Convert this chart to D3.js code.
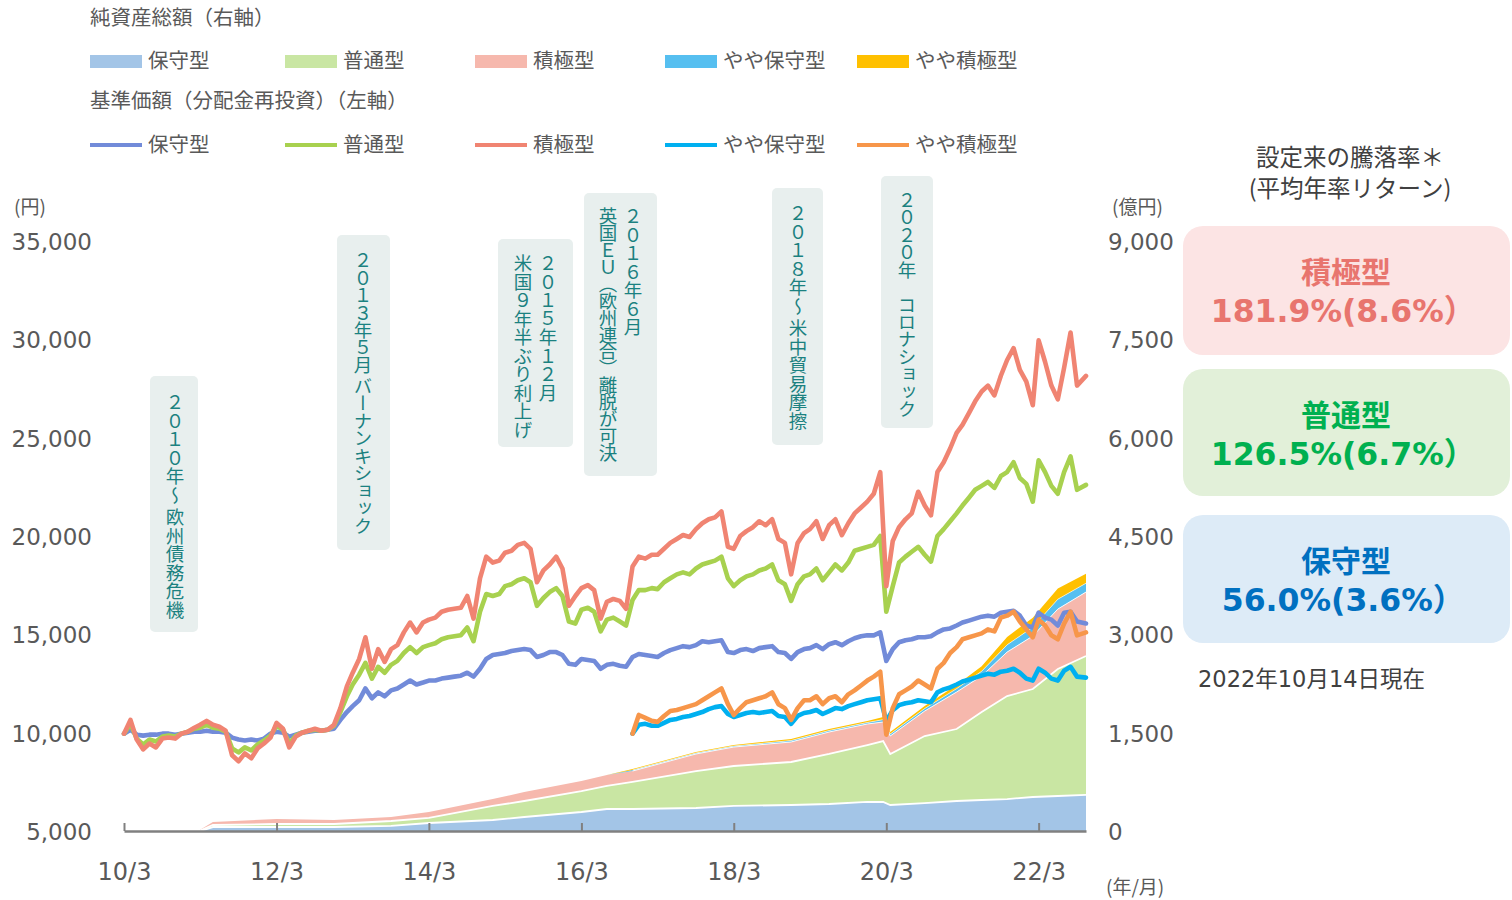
<!DOCTYPE html>
<html>
<head>
<meta charset="utf-8">
<script src="https://cdn.jsdelivr.net/npm/d3@7"></script>
<style>
  body { margin: 0; background: #ffffff; }
  svg { display: block; }
  text { font-family: "DejaVu Sans", "Noto Sans CJK JP", sans-serif; }
  .jp { font-family: "Noto Sans CJK JP", sans-serif; }
</style>
</head>
<body>
<svg id="chart" width="1512" height="900"></svg>
<script>
// ---------------- DATA ----------------
const fundNames = ["保守型", "普通型", "積極型", "やや保守型", "やや積極型"];

// Monthly NAV (分配金再投資), 2010/3 .. 2022/10 (last point = 2022/10/14)
const navStart = "2010-03-01";
const asOfDate = "2022-10-14";
const navHoshu = [
  10000, 10200, 9950, 9900, 9950, 9950, 10000, 10000, 9950, 10000,
  10050, 10100, 10100, 10150, 10100, 10100, 10050, 9800, 9700, 9650, 9700, 9650,
  9750, 10000, 10100, 10050, 9850, 9950, 10050, 10100, 10150, 10150, 10200, 10250,
  10700, 11100, 11400, 11700, 12300, 11800, 12100, 11900, 12200, 12300, 12500, 12700,
  12500, 12600, 12700, 12700, 12800, 12850, 12900, 12950, 13100, 12900, 13300, 13800,
  14000, 14050, 14100, 14200, 14250, 14300, 14250, 13900, 14000, 14150, 14150, 14000,
  13550, 13500, 13800, 13750, 13700, 13300, 13500, 13550, 13450, 13400, 13900, 14050,
  14000, 13950, 13900, 14100, 14250, 14350, 14450, 14400, 14500, 14700, 14650, 14700,
  14750, 14150, 14100, 14250, 14300, 14200, 14350, 14400, 14450, 14150, 14100, 13800,
  14150, 14300, 14350, 14500, 14300, 14550, 14650, 14500, 14700, 14850, 14950, 15000,
  15000, 15150, 13700, 14300, 14650, 14750, 14800, 14900, 14900, 14950, 15150, 15300,
  15350, 15500, 15650, 15750, 15850, 15950, 16000, 15950, 16150, 16200, 16250, 16000,
  15500, 15400, 16150, 15900, 15800, 15500, 16150, 16200, 15700, 15600
];
const navFutsu = [
  10000, 10500, 9750, 9450, 9700, 9600, 9850, 9900, 9850, 10000,
  10100, 10250, 10300, 10450, 10300, 10250, 10100, 9250, 9050, 9300, 9150, 9450,
  9650, 9900, 10400, 10200, 9500, 9900, 10050, 10150, 10200, 10150, 10200, 10400,
  11100, 11900, 12500, 13000, 13600, 12800, 13400, 13100, 13500, 13700, 14100, 14400,
  14100, 14400, 14500, 14600, 14800, 14900, 14950, 15000, 15400, 14700, 16200, 17100,
  17000, 17100, 17500, 17600, 17800, 17900, 17700, 16500, 16900, 17200, 17400, 17000,
  15700, 15600, 16300, 16400, 16200, 15200, 15800, 15900, 15700, 15500, 16800, 17300,
  17300, 17400, 17350, 17700, 17900, 18100, 18200, 18100, 18400, 18600, 18700, 18800,
  19000, 17900, 17500, 17800, 18000, 18100, 18300, 18400, 18600, 17800, 17600, 16750,
  17600, 18000, 18100, 18400, 17800, 18200, 18600, 18300, 18700, 19300, 19400, 19500,
  19600, 20050, 16200, 17500, 18700, 19000, 19250, 19500, 19100, 18750, 20050, 20400,
  20800, 21200, 21600, 22000, 22400, 22600, 22800, 22500, 23100, 23300, 23800, 23000,
  22700, 21800, 23900, 23300, 22600, 22200, 23300, 24100, 22400, 22650
];
const navSekkyoku = [
  10000, 10700, 9700, 9200, 9500, 9300, 9750, 9800, 9750, 10000,
  10100, 10300, 10450, 10650, 10450, 10350, 10150, 8900, 8600, 9000, 8750, 9250,
  9500, 9800, 10550, 10250, 9300, 9850, 10050, 10150, 10250, 10150, 10200, 10450,
  11300, 12400, 13100, 13800, 14900, 13300, 14300, 13650, 14300, 14500, 15150, 15650,
  15150, 15650, 15800, 15900, 16200, 16300, 16350, 16400, 17000, 15850, 17900, 19000,
  18700, 18800, 19200, 19300, 19600, 19700, 19400, 17700, 18300, 18600, 19000, 18400,
  16500, 17000, 17400, 17550, 17300, 15850, 16700, 16850, 16750, 16350, 18500, 19000,
  18900, 19100, 19100, 19400, 19700, 19900, 20100, 20000, 20400, 20700, 20900, 21000,
  21300, 19500, 19400, 20050, 20300, 20500, 20800, 20600, 20900, 19900, 19700, 18100,
  19700, 20200, 20400, 20800, 19900, 20600, 20900, 20100, 20700, 21200, 21500, 21800,
  22200, 23300, 17500, 19800, 20500, 20900, 21200, 22300, 21600, 21100, 23300, 23800,
  24500, 25300, 25700, 26300, 26900, 27400, 27700, 27200, 28200, 29000, 29600, 28500,
  27900, 26700, 30000, 28900, 27700, 27000, 28600, 30400, 27700, 28190
];
// やや型 start 2016/11
const yayaStart = "2016-11-01";
const navYayaHoshu = [
  10000, 10450,
  10500, 10400, 10400, 10550, 10700, 10750, 10850, 10900, 11000, 11100, 11250, 11350,
  11400, 11000, 10850, 10950, 11050, 11100, 11050, 11100, 11150, 10900, 10850, 10500,
  10900, 11050, 11100, 11200, 11000, 11150, 11300, 11250, 11400, 11500, 11600, 11700,
  11750, 11800, 10650, 11200, 11450, 11550, 11600, 11700, 11650, 11600, 12100, 12250,
  12350, 12500, 12650, 12750, 12850, 12950, 13050, 13000, 13150, 13200, 13300, 13100,
  12800, 12700, 13300, 13100, 12800, 12700, 13200, 13400, 12900, 12850
];
const navYayaSekkyoku = [
  10000, 10950,
  10800, 10650, 10600, 10900, 11150, 11200, 11300, 11400, 11500, 11700, 11900, 12100,
  12300, 11500, 10950, 11300, 11600, 11700, 11800, 11900, 12100, 11500, 11300, 10700,
  11300, 11700, 11700, 11900, 11500, 11800, 11900, 11600, 12000, 12200, 12450, 12700,
  12900, 13150, 9950, 11300, 12000, 12200, 12400, 12700, 12500, 12300, 13300, 13600,
  14100, 14400, 14800, 14900, 15000, 15100, 15300, 15200, 15900, 16000, 16200, 15700,
  15300, 14900, 15800, 15500, 15000, 14800, 15600, 16200, 15000, 15150
];

// Net assets (億円), read at these dates
const assetDates = [
  "2011-03-01", "2011-05-01", "2012-03-01", "2012-12-01", "2013-09-01", "2014-03-01",
  "2015-01-01", "2015-06-01", "2016-03-01", "2016-07-01", "2016-11-01", "2017-09-01",
  "2018-03-01", "2018-12-01", "2019-06-01", "2019-12-01", "2020-02-15", "2020-03-20",
  "2020-09-01", "2021-02-01", "2021-06-01", "2021-10-01", "2022-02-01", "2022-06-01",
  "2022-10-14"
];
const assetHoshu     = [15, 76, 76, 76, 92, 137, 183, 229, 305, 351, 351, 366, 397, 412, 427, 458, 458, 412, 442, 473, 488, 503, 534, 549, 565];
const assetFutsu     = [8, 31, 46, 46, 76, 77, 214, 244, 320, 351, 412, 564, 610, 656, 763, 869, 930, 778, 1022, 1098, 1342, 1571, 1647, 1937, 2119];
const assetSekkyoku  = [10, 46, 76, 61, 61, 91, 106, 137, 153, 167, 167, 260, 289, 305, 335, 320, 290, 274, 381, 564, 549, 671, 808, 915, 976];
const assetYayaHoshu = [0, 0, 0, 0, 0, 0, 0, 0, 0, 0, 15, 15, 15, 22, 23, 23, 36, 30, 37, 52, 73, 110, 135, 150, 135];
const assetYayaSekkyoku = [0, 0, 0, 0, 0, 0, 0, 0, 0, 0, 15, 15, 16, 23, 23, 23, 40, 31, 40, 55, 78, 120, 145, 165, 145];

// Axes
const xTickDates  = ["2010-03-01", "2012-03-01", "2014-03-01", "2016-03-01", "2018-03-01", "2020-03-01", "2022-03-01"];
const xTickLabels = ["10/3", "12/3", "14/3", "16/3", "18/3", "20/3", "22/3"];
const leftTicks  = [5000, 10000, 15000, 20000, 25000, 30000, 35000];
const rightTicks = [0, 1500, 3000, 4500, 6000, 7500, 9000];

// Events
const eventTexts = [
  ["２０１０年～ 欧州債務危機"],
  ["２０１３年５月 バーナンキショック"],
  ["２０１５年１２月", "米国９年半ぶり利上げ"],
  ["２０１６年６月", "英国ＥＵ（欧州連合）離脱が可決"],
  ["２０１８年～ 米中貿易摩擦"],
  ["２０２０年　コロナショック"]
];

// Returns since inception
const returnFunds = ["積極型", "普通型", "保守型"];
const totalReturn = [181.9, 126.5, 56.0];
const annualReturn = [8.6, 6.7, 3.6];

// ---------------- STYLE / LAYOUT ----------------
const areaColors = ["#a3c5e7", "#c9e6a3", "#f6b8ad", "#56bff0", "#ffc000"];
const lineColors = ["#728bd9", "#a8d14f", "#f08472", "#00b0f0", "#f7964a"];
const sepWidths = [1.8, 1.8, 0.9, 0.6];
const textGray = "#595959";
const eventBoxes = [
  { x: 150, y: 376, w: 48, h: 256, cols: [175], ty: 393, ls: [0] },
  { x: 337, y: 235, w: 53, h: 315, cols: [363], ty: 251, ls: [-1] },
  { x: 498, y: 239, w: 75, h: 208, cols: [548, 523], ty: 254, ls: [0, 0] },
  { x: 584, y: 193, w: 73, h: 283, cols: [633, 608], ty: 207, ls: [0, -1.6] },
  { x: 772, y: 188, w: 51, h: 257, cols: [798], ty: 204, ls: [0] },
  { x: 881, y: 176, w: 52, h: 252, cols: [907], ty: 191, ls: [-1.1] }
];
const panelBoxes = [
  { y: 226, h: 129, fill: "#fce4e4", color: "#e8756e" },
  { y: 369, h: 127, fill: "#e2f0d9", color: "#00b050" },
  { y: 515, h: 128, fill: "#ddebf7", color: "#0070c0" }
];

// ---------------- BUILD ----------------
const svg = d3.select("#chart");
const parse = d3.timeParse("%Y-%m-%d");
const endDate = parse(asOfDate);

const x = d3.scaleTime().domain([parse(navStart), endDate]).range([124, 1086]);
const yL = d3.scaleLinear().domain([5000, 35000]).range([832, 242]);
const yR = d3.scaleLinear().domain([0, 9000]).range([832, 242]);

function monthly(startStr, values) {
  const s = parse(startStr);
  return values.map((v, i) => ({
    date: i === values.length - 1 ? endDate : d3.timeMonth.offset(s, i),
    v
  }));
}

// --- event boxes (behind) ---
const ev = svg.append("g");
eventTexts.forEach((lines, i) => {
  const b = eventBoxes[i];
  ev.append("rect").attr("x", b.x).attr("y", b.y).attr("width", b.w).attr("height", b.h)
    .attr("rx", 5).attr("fill", "#e8efee");
  lines.forEach((t, j) => {
    ev.append("text").attr("class", "jp")
      .attr("x", b.cols[j]).attr("y", b.ty)
      .style("writing-mode", "vertical-rl")
      .style("text-orientation", "mixed")
      .style("font-family", "'Noto Sans CJK JP', sans-serif")
      .style("letter-spacing", b.ls[j] + "px")
      .attr("font-size", 18.5)
      .attr("fill", "#1b8180")
      .text(t);
  });
});

// --- stacked areas ---
const assetRows = assetDates.map((d, i) => ({
  date: parse(d),
  [fundNames[0]]: assetHoshu[i],
  [fundNames[1]]: assetFutsu[i],
  [fundNames[2]]: assetSekkyoku[i],
  [fundNames[3]]: assetYayaHoshu[i],
  [fundNames[4]]: assetYayaSekkyoku[i]
}));
const stacked = d3.stack().keys(fundNames)(assetRows);
const area = d3.area().x(d => x(d.data.date)).y0(d => yR(d[0])).y1(d => yR(d[1]));
const ga = svg.append("g");
stacked.forEach((layer, i) => {
  ga.append("path").attr("d", area(layer)).attr("fill", areaColors[i]);
});
stacked.slice(0, 4).forEach((layer, i) => {
  const nextKey = fundNames[i + 1];
  const sep = d3.line()
    .defined(d => i < 2 || d.data[nextKey] > 0)
    .x(d => x(d.data.date)).y(d => yR(d[1]));
  ga.append("path").attr("d", sep(layer)).attr("fill", "none")
    .attr("stroke", "#ffffff").attr("stroke-width", sepWidths[i]);
});

// --- x axis ---
const xAxis = d3.axisBottom(x)
  .tickValues(xTickDates.map(parse))
  .tickFormat((d, i) => xTickLabels[i])
  .tickSizeInner(-8).tickSizeOuter(0);
const gx = svg.append("g").attr("transform", `translate(0,${yL(5000) - 1})`).call(xAxis);
gx.select(".domain").attr("stroke", "#808080").attr("stroke-width", 2.4);
gx.selectAll(".tick line").attr("stroke", "#808080").attr("stroke-width", 2);
gx.selectAll(".tick text").attr("y", 41).attr("dy", "0.35em")
  .attr("font-size", 24).attr("fill", textGray)
  .style("font-family", "'DejaVu Sans', sans-serif");

// --- y axes ---
const gl = svg.append("g").attr("transform", "translate(92,0)")
  .call(d3.axisLeft(yL).tickValues(leftTicks).tickFormat(d3.format(",")).tickSize(0).tickPadding(0));
gl.select(".domain").remove();
gl.selectAll(".tick text").attr("font-size", 23).attr("fill", textGray)
  .style("font-family", "'DejaVu Sans', sans-serif");

const gr = svg.append("g").attr("transform", "translate(1108,0)")
  .call(d3.axisRight(yR).tickValues(rightTicks).tickFormat(d3.format(",")).tickSize(0).tickPadding(0));
gr.select(".domain").remove();
gr.selectAll(".tick text").attr("font-size", 23).attr("fill", textGray)
  .style("font-family", "'DejaVu Sans', sans-serif");

svg.append("text").attr("class", "jp").attr("x", 14).attr("y", 207).attr("dy", "0.35em")
  .attr("font-size", 19).attr("fill", textGray).text("(円)");
svg.append("text").attr("class", "jp").attr("x", 1112).attr("y", 207).attr("dy", "0.35em")
  .attr("font-size", 19).attr("fill", textGray).text("(億円)");
svg.append("text").attr("class", "jp").attr("x", 1106).attr("y", 887).attr("dy", "0.35em")
  .attr("font-size", 19).attr("fill", textGray).text("(年/月)");

// --- NAV lines ---
const navSeries = [
  monthly(navStart, navHoshu),
  monthly(navStart, navFutsu),
  monthly(navStart, navSekkyoku),
  monthly(yayaStart, navYayaHoshu),
  monthly(yayaStart, navYayaSekkyoku)
];
const line = d3.line().x(d => x(d.date)).y(d => yL(d.v));
const gl2 = svg.append("g");
navSeries.forEach((s, i) => {
  gl2.append("path").attr("d", line(s)).attr("fill", "none")
    .attr("stroke", lineColors[i]).attr("stroke-width", 4.6)
    .attr("stroke-linejoin", "round").attr("stroke-linecap", "round");
});

// --- legend ---
const leg = svg.append("g").attr("class", "jp").style("font-family", "'Noto Sans CJK JP', sans-serif");
const legX = [90, 285, 475, 665, 857];
leg.append("text").attr("x", 90).attr("y", 18).attr("dy", "0.35em").attr("font-size", 20.5)
  .attr("fill", textGray).text("純資産総額（右軸）");
leg.append("text").attr("x", 90).attr("y", 101).attr("dy", "0.35em").attr("font-size", 20.5)
  .attr("fill", textGray).text("基準価額（分配金再投資）（左軸）");
fundNames.forEach((n, i) => {
  leg.append("rect").attr("x", legX[i]).attr("y", 55).attr("width", 52).attr("height", 13)
    .attr("fill", areaColors[i]);
  leg.append("text").attr("x", legX[i] + 58).attr("y", 61).attr("dy", "0.35em")
    .attr("font-size", 20.5).attr("fill", textGray).text(n);
  leg.append("line").attr("x1", legX[i]).attr("x2", legX[i] + 52).attr("y1", 145).attr("y2", 145)
    .attr("stroke", lineColors[i]).attr("stroke-width", 4);
  leg.append("text").attr("x", legX[i] + 58).attr("y", 145).attr("dy", "0.35em")
    .attr("font-size", 20.5).attr("fill", textGray).text(n);
});

// --- right panel ---
const rp = svg.append("g");
rp.append("text").attr("class", "jp").attr("x", 1350).attr("y", 158).attr("dy", "0.35em")
  .attr("text-anchor", "middle").attr("font-size", 23.5).attr("fill", "#404040").text("設定来の騰落率＊");
rp.append("text").attr("class", "jp").attr("x", 1350).attr("y", 189).attr("dy", "0.35em")
  .attr("text-anchor", "middle").attr("font-size", 23.5).attr("fill", "#404040").text("(平均年率リターン)");
const f1 = d3.format(".1f");
returnFunds.forEach((n, i) => {
  const b = panelBoxes[i];
  rp.append("rect").attr("x", 1183).attr("y", b.y).attr("width", 327).attr("height", b.h)
    .attr("rx", 20).attr("fill", b.fill);
  rp.append("text").attr("class", "jp").attr("x", 1346).attr("y", b.y + 46).attr("dy", "0.35em")
    .attr("text-anchor", "middle").attr("font-size", 30).attr("font-weight", 700)
    .attr("fill", b.color).text(n);
  rp.append("text").attr("x", 1343).attr("y", b.y + 85).attr("dy", "0.35em")
    .attr("text-anchor", "middle").attr("font-size", 31.5).attr("font-weight", 700)
    .attr("fill", b.color)
    .text(`${f1(totalReturn[i])}%(${f1(annualReturn[i])}%）`);
});
rp.append("text").attr("x", 1198).attr("y", 679).attr("dy", "0.35em")
  .attr("font-size", 22.5).attr("fill", "#404040").text("2022年10月14日現在");
</script>
</body>
</html>
